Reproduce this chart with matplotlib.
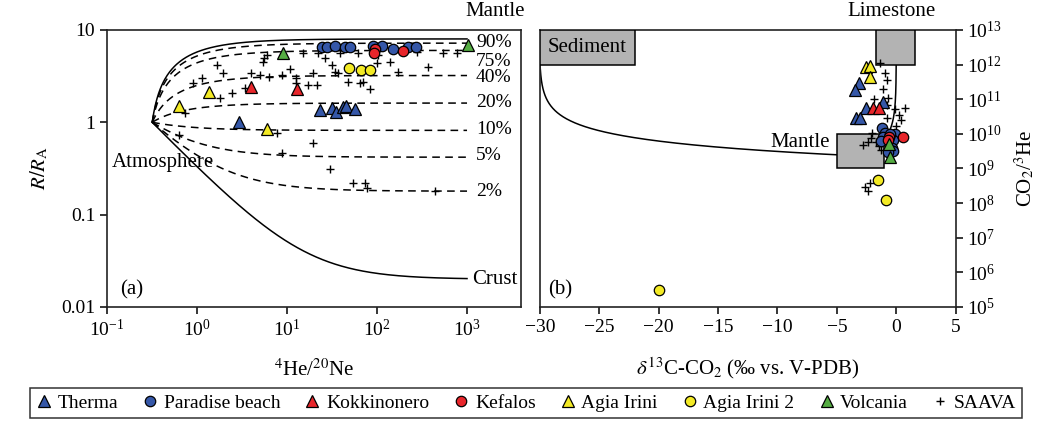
import numpy as np
import matplotlib.pyplot as plt
from matplotlib.patches import Rectangle
from matplotlib.lines import Line2D
from matplotlib.ticker import FixedLocator, FixedFormatter, LogLocator, NullLocator

plt.rcParams['font.family'] = ['Liberation Serif', 'DejaVu Serif']
plt.rcParams['mathtext.fontset'] = 'stix'
plt.rcParams['font.size'] = 14

# ---- (a) 4He/20Ne vs R/RA ----
therma_hene = [2.93, 23.3, 31.6, 35.0, 41.9, 45.3, 57.0]
therma_r = [1.01, 1.36, 1.43, 1.30, 1.47, 1.51, 1.40]
paradise_hene = [24.5, 27.8, 34.1, 44.1, 50.1, 90.3, 114, 151, 221, 271]
paradise_r = [6.5, 6.5, 6.7, 6.5, 6.5, 6.7, 6.7, 6.2, 6.5, 6.5]
kokkino_hene = [3.98, 12.9]
kokkino_r = [2.42, 2.30]
kefalos_hene = [95, 92.6, 194]
kefalos_r = [6.2, 5.64, 5.93]
agia_hene = [1.36, 0.63, 6.0]
agia_r = [2.14, 1.51, 0.85]
agia2_hene = [48.8, 66.4, 83.6]
agia2_r = [3.88, 3.69, 3.69]
volc_hene = [9.0, 1026]
volc_r = [5.64, 6.88]
saava_hene = [6.0, 5.55, 5.41, 15.1, 22.1, 1.67, 1.94, 3.98, 5.01, 6.31,
              8.8, 10.8, 19.4, 12.6, 12.6, 17.1, 21.5, 0.90, 1.14, 1.80,
              2.45, 3.41, 0.74, 7.74, 0.63, 26.4, 31.6, 34.1, 36.9, 38.8,
              47.6, 64.7, 69.9, 83.6, 100, 103, 139, 171, 278, 369,
              541, 774, 61.5, 19.4, 8.8, 30.0, 54.1, 73.6, 77.4, 441]
saava_r = [5.37, 4.98, 4.51, 5.64, 5.64, 4.19, 3.43, 3.43, 3.26, 3.10,
           3.26, 3.79, 3.43, 3.03, 2.67, 2.54, 2.54, 2.67, 3.03, 1.84,
           2.08, 2.36, 1.27, 0.77, 0.73, 4.98, 4.19, 3.52, 3.43, 5.64,
           2.74, 2.67, 2.74, 2.30, 4.40, 5.37, 4.51, 3.52, 5.78, 3.98,
           5.64, 5.64, 5.64, 0.60, 0.47, 0.31, 0.22, 0.22, 0.196, 0.18]

# end-members for the He mixing curves
air_hene, air_r = 0.318, 1.0
mantle_r, crust_r = 8.0, 0.02
mantle_pct = [90, 75, 40, 20, 10, 5, 2]
pct_label_r = [7.3, 4.6, 3.05, 1.62, 0.83, 0.434, 0.179]

# ---- (b) d13C vs CO2/3He ----
therma_d13 = [-3.14, -3.50, -1.14, -2.51, -3.41, -3.08]
therma_c = [2.9e11, 1.9e11, 8.5e10, 5.4e10, 2.8e10, 2.8e10]
paradise_d13 = [-1.23, -0.98, -0.14, -1.12, -0.28, -1.25, -0.33, -0.28, -0.70, -0.55]
paradise_c = [1.45e10, 1.08e10, 9.8e9, 8.0e9, 6.6e9, 6.2e9, 3.8e9, 3.2e9, 3.0e9, 1.02e10]
kokkino_d13 = [-1.98, -1.48]
kokkino_c = [5.7e10, 5.7e10]
kefalos_d13 = [-0.62, 0.59, -0.70]
kefalos_c = [8.2e9, 8.0e9, 6.6e9]
agia_d13 = [-2.57, -2.24, -2.18]
agia_c = [8.7e11, 9.3e11, 4.5e11]
agia2_d13 = [-1.56, -0.86, -20.0]
agia2_c = [4.6e8, 1.26e8, 3.2e5]
volc_d13 = [-0.61, -0.53]
volc_c = [5.1e9, 2.2e9]
saava_d13 = [-1.35, -0.97, -0.75, -1.12, -1.86, -0.66, -0.77, -0.13, 0.71, 0.20,
             0.41, -0.79, -0.02, -2.01, -2.09, -1.73, -2.40, -2.80, -1.44, -1.25,
             -2.21, -2.63, -2.36]
saava_c = [1.15e12, 5.8e11, 3.5e11, 1.95e11, 1.0e11, 1.07e11, 6.7e10, 5.2e10, 5.4e10, 3.5e10,
           2.5e10, 2.9e10, 1.66e10, 1.07e10, 7.8e9, 5.8e9, 5.8e9, 4.9e9, 4.6e9, 3.4e9,
           3.8e8, 3.0e8, 2.2e8]

# carbon end-members
mantle_d13, mantle_c = -3.0, 2.3e9
sed_d13, lime_d13, end_c = -30.0, 0.0, 1e12

blue = '#3557a8'
red = '#e8262b'
yellow = '#f3ea25'
green = '#55ad43'
grey = '#b3b3b3'

groups = [
    ('Therma', '^', blue),
    ('Paradise beach', 'o', blue),
    ('Kokkinonero', '^', red),
    ('Kefalos', 'o', red),
    ('Agia Irini', '^', yellow),
    ('Agia Irini 2', 'o', yellow),
    ('Volcania', '^', green),
]
left_data = [(therma_hene, therma_r), (paradise_hene, paradise_r), (kokkino_hene, kokkino_r),
             (kefalos_hene, kefalos_r), (agia_hene, agia_r), (agia2_hene, agia2_r),
             (volc_hene, volc_r)]
right_data = [(therma_d13, therma_c), (paradise_d13, paradise_c), (kokkino_d13, kokkino_c),
              (kefalos_d13, kefalos_c), (agia_d13, agia_c), (agia2_d13, agia2_c),
              (volc_d13, volc_c)]


def marker_kw(marker, color):
    ms = 7.5 if marker == 'o' else 8
    return dict(linestyle='none', marker=marker, markersize=ms, markerfacecolor=color,
                markeredgecolor='black', markeredgewidth=0.9)


cross_kw = dict(linestyle='none', marker='+', markersize=6, color='black', markeredgewidth=1)

fig = plt.figure(figsize=(10.46, 4.21), dpi=100)
ax1 = fig.add_axes([0.1023, 0.2708, 0.3958, 0.658])
ax2 = fig.add_axes([0.5163, 0.2708, 0.3972, 0.658])

for ax in (ax1, ax2):
    for s in ax.spines.values():
        s.set_linewidth(1.2)
        s.set_color('#222222')
    ax.tick_params(direction='out', length=5, width=1.1, labelsize=14)

# --- panel a ---
x = np.logspace(np.log10(air_hene), 3, 400)
ax1.plot(x, mantle_r + air_hene * (air_r - mantle_r) / x, color='black', lw=1.1, zorder=2)
ax1.plot(x, crust_r + air_hene * (air_r - crust_r) / x, color='black', lw=1.1, zorder=2)
for p in mantle_pct:
    rb = p / 100 * mantle_r + (1 - p / 100) * crust_r
    ax1.plot(x, rb + air_hene * (air_r - rb) / x, color='black', lw=1.1,
             linestyle=(0, (5, 3.5)), zorder=2)
for p, ry in zip(mantle_pct, pct_label_r):
    ax1.text(1260, ry, f'{p}%', ha='left', va='center', fontsize=14)

ax1.plot(saava_hene, saava_r, zorder=3, **cross_kw)
for (label, m, c), (hx, hy) in zip(groups, left_data):
    ax1.plot(hx, hy, zorder=4, **marker_kw(m, c))

ax1.set_xscale('log')
ax1.set_yscale('log')
ax1.set_xlim(0.1, 3980)
ax1.set_ylim(0.01, 10)
ax1.xaxis.set_major_locator(FixedLocator([0.1, 1, 10, 100, 1000]))
ax1.xaxis.set_minor_locator(NullLocator())
ax1.yaxis.set_major_locator(FixedLocator([0.01, 0.1, 1, 10]))
ax1.yaxis.set_major_formatter(FixedFormatter(['0.01', '0.1', '1', '10']))
ax1.yaxis.set_minor_locator(NullLocator())
ax1.set_xlabel(r'$^4$He/$^{20}$Ne', fontsize=15, labelpad=14)
ax1.set_ylabel(r'$R/R_\mathrm{A}$', fontsize=15, labelpad=8)

ax1.text(0.012, 0.523, 'Atmosphere', transform=ax1.transAxes, ha='left', va='center', fontsize=15)
ax1.text(1140, 0.02, 'Crust', ha='left', va='center', fontsize=15)
ax1.text(0.937, 1.065, 'Mantle', transform=ax1.transAxes, ha='center', va='center', fontsize=15)
ax1.text(0.031, 0.061, '(a)', transform=ax1.transAxes, ha='left', va='center', fontsize=15)

# --- panel b ---
cc = np.logspace(np.log10(mantle_c), np.log10(end_c), 400)
frac = end_c * (cc - mantle_c) / ((end_c - mantle_c) * cc)
ax2.plot(mantle_d13 + (sed_d13 - mantle_d13) * frac, cc, color='black', lw=1.1, zorder=2)
ax2.plot(mantle_d13 + (lime_d13 - mantle_d13) * frac, cc, color='black', lw=1.1, zorder=2)

ax2.add_patch(Rectangle((-30, 1e12), 8, 9e12, facecolor=grey, edgecolor='black', lw=1.1, zorder=3))
ax2.add_patch(Rectangle((-1.7, 1e12), 3.3, 9e12, facecolor=grey, edgecolor='black', lw=1.1, zorder=3))
ax2.add_patch(Rectangle((-5, 1e9), 4, 9e9, facecolor=grey, edgecolor='black', lw=1.1, zorder=3))

ax2.plot(saava_d13, saava_c, zorder=4, **cross_kw)
for (label, m, c), (dx, dy) in zip(groups, right_data):
    ax2.plot(dx, dy, zorder=5, **marker_kw(m, c))

ax2.set_yscale('log')
ax2.set_xlim(-30, 5)
ax2.set_ylim(1e5, 1e13)
ax2.set_xticks([-30, -25, -20, -15, -10, -5, 0, 5])
ax2.set_xticklabels(['\u221230', '\u221225', '\u221220', '\u221215', '\u221210', '\u22125', '0', '5'])
ax2.yaxis.tick_right()
ax2.yaxis.set_label_position('right')
ax2.yaxis.set_major_locator(LogLocator(base=10, numticks=20))
ax2.yaxis.set_minor_locator(NullLocator())
ax2.set_xlabel(r'$\delta^{13}$C-CO$_2$ (‰ vs. V-PDB)', fontsize=15, labelpad=14)
ax2.set_ylabel(r'CO$_2$/$^3$He', fontsize=15, labelpad=8)

ax2.text(-26, 10 ** 12.5, 'Sediment', ha='center', va='center', fontsize=15, zorder=6)
ax2.text(-5.6, 10 ** 9.76, 'Mantle', ha='right', va='center', fontsize=15)
ax2.text(0.845, 1.065, 'Limestone', transform=ax2.transAxes, ha='center', va='center', fontsize=15)
ax2.text(0.02, 0.061, '(b)', transform=ax2.transAxes, ha='left', va='center', fontsize=15)

# legend
handles = [Line2D([], [], **marker_kw(m, c)) for _, m, c in groups]
handles.append(Line2D([], [], **cross_kw))
labels = [g[0] for g in groups] + ['SAAVA']
leg = fig.legend(handles, labels, loc='center', bbox_to_anchor=(0.503, 0.043), ncol=8,
                 fontsize=14, frameon=True, fancybox=False, edgecolor='black',
                 handlelength=0.8, handletextpad=0.3, columnspacing=1.25,
                 borderpad=0.3, borderaxespad=0)
leg.get_frame().set_linewidth(1.1)

fig.savefig('out.png', dpi=100)
